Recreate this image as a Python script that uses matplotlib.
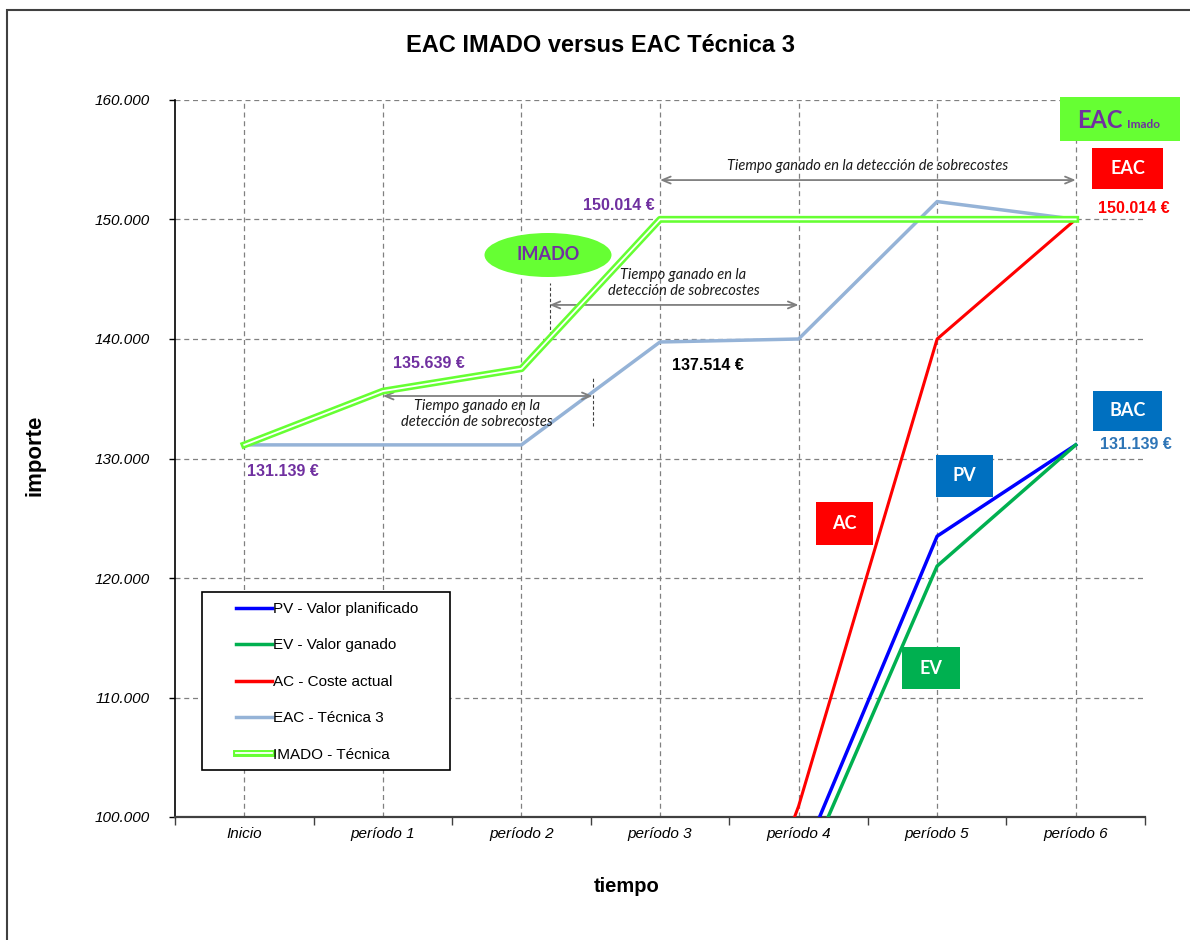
import matplotlib
matplotlib.use('Agg')
import matplotlib.pyplot as plt
import matplotlib.patheffects as pe
from matplotlib.patches import Rectangle, Ellipse
from matplotlib.lines import Line2D
from matplotlib.ticker import FuncFormatter

# datos
periodos = ['Inicio', 'período 1', 'período 2', 'período 3', 'período 4', 'período 5', 'período 6']
pv = [0, 25000, 50000, 72000, 95800, 123500, 131139]
ev = [0, 22000, 46000, 70000, 94300, 121000, 131139]
ac = [0, 20000, 45000, 70000, 100900, 140000, 150014]
eac_t3 = [131139, 131139, 131139, 139750, 140000, 151500, 150014]
imado = [131139, 135639, 137514, 150014, 150014, 150014, 150014]

W, H = 1190, 940
PURPLE = '#7030a0'
LGREEN = '#66ff33'
BLUE_BOX = '#0070c0'
ARIAL = 'Liberation Sans'
CALIBRI = 'Lato'


def fx(px):
    return px / W


def fy(py):
    return 1 - py / H


fig = plt.figure(figsize=(W / 100, H / 100), dpi=100)
ax = fig.add_axes([fx(175), fy(817), (1145 - 175) / W, (817 - 100) / H])

x = list(range(len(periodos)))
imado_fx = [pe.Stroke(linewidth=5, foreground=LGREEN), pe.Normal()]

ax.plot(x, pv, color='#0000ff', lw=2.5, zorder=3)
ax.plot(x, ev, color='#00b050', lw=2.5, zorder=3)
ax.plot(x, ac, color='#ff0000', lw=2.2, zorder=3)
ax.plot(x, eac_t3, color='#95b3d7', lw=2.5, zorder=3)
ax.plot(x, imado, color='white', lw=1.3, zorder=4, path_effects=imado_fx)

ax.set_xlim(-0.5, 6.5)
ax.set_ylim(100000, 160000)
ax.set_xticks(x)
ax.set_xticklabels(periodos, fontsize=11, style='italic', family=ARIAL)
ax.set_xticks([i - 0.5 for i in range(8)], minor=True)
ax.tick_params(axis='x', which='major', length=0, pad=7)
ax.tick_params(axis='x', which='minor', length=6, width=1, color='#404040', direction='out')
ax.set_yticks(range(100000, 160001, 10000))
ax.yaxis.set_major_formatter(FuncFormatter(lambda v, p: f'{v:,.0f}'.replace(',', '.')))
ax.tick_params(axis='y', length=4, width=1, pad=14)
for lab in ax.get_yticklabels():
    lab.set_fontstyle('italic')
    lab.set_fontsize(11)
    lab.set_family(ARIAL)

ax.grid(True, which='major', ls=(0, (4, 3)), color='#808080', lw=0.9)
ax.set_axisbelow(True)
ax.spines['top'].set_visible(False)
ax.spines['right'].set_visible(False)
ax.spines['bottom'].set_linewidth(1.6)
ax.spines['bottom'].set_color('#404040')
ax.spines['left'].set_linewidth(1.2)

# leyenda
ax.add_patch(Rectangle((fx(202), fy(770)), fx(450 - 202), (770 - 592) / H,
                       transform=fig.transFigure, facecolor='white', edgecolor='black',
                       lw=1.2, clip_on=False, zorder=5))
handles = [Line2D([], [], color='#0000ff', lw=2.5),
           Line2D([], [], color='#00b050', lw=2.5),
           Line2D([], [], color='#ff0000', lw=2.5),
           Line2D([], [], color='#95b3d7', lw=2.5),
           Line2D([], [], color='white', lw=1.3, path_effects=imado_fx)]
labels = ['PV - Valor planificado', 'EV - Valor ganado', 'AC - Coste actual',
          'EAC - Técnica 3', 'IMADO - Técnica']
leg = ax.legend(handles, labels, loc='upper left', bbox_to_anchor=(fx(236), fy(602)),
                bbox_transform=fig.transFigure, frameon=False,
                labelspacing=1.47, handlelength=2.35, handletextpad=0.05, borderpad=0,
                borderaxespad=0, prop={'family': ARIAL, 'size': 11})
leg.set_zorder(6)

# flechas de tiempo ganado
arrow = dict(arrowstyle='<->,head_length=0.6,head_width=0.25', color='#7f7f7f', lw=1.3,
             shrinkA=0, shrinkB=0)
txt = dict(fontsize=10.5, style='italic', family=CALIBRI, color='#1a1a1a', ha='center', va='center')

ax.annotate('', xy=(6, 153300), xytext=(3, 153300), arrowprops=arrow)
ax.text(4.5, 154500, 'Tiempo ganado en la detección de sobrecostes', **txt)

ax.annotate('', xy=(4, 142850), xytext=(2.203, 142850), arrowprops=arrow)
ax.text(3.17, 144690, 'Tiempo ganado en la\ndetección de sobrecostes', linespacing=1.25, **txt)
ax.plot([2.203, 2.203], [140300, 144700], color='#404040', lw=0.8, ls=(0, (3, 2)))

ax.annotate('', xy=(2.514, 135230), xytext=(1, 135230), arrowprops=arrow)
ax.text(1.68, 133720, 'Tiempo ganado en la\ndetección de sobrecostes', linespacing=1.25, **txt)
ax.plot([2.514, 2.514], [132700, 136900], color='#404040', lw=0.8, ls=(0, (3, 2)))

# etiquetas de importes
val = dict(fontsize=11.5, weight='bold', family=ARIAL, ha='center', va='center')
ax.text(2.70, 151130, '150.014 €', color=PURPLE, **val)
ax.text(3.345, 137820, '137.514 €', color='black', **val)
ax.text(1.335, 137990, '135.639 €', color=PURPLE, **val)
ax.text(0.28, 128950, '131.139 €', color=PURPLE, **val)
ax.text(6.42, 150960, '150.014 €', color='#ff0000', clip_on=False, **val)
ax.text(6.434, 131130, '131.139 €', color='#2e75b6', clip_on=False, **val)


def caja(x0, y0, x1, y1, color, texto=None, size=13):
    fig.patches.append(Rectangle((fx(x0), fy(y1)), fx(x1 - x0), (y1 - y0) / H,
                                 transform=fig.transFigure, facecolor=color,
                                 edgecolor='none', zorder=7))
    if texto:
        fig.text(fx((x0 + x1) / 2), fy((y0 + y1) / 2), texto, color='white', weight='bold',
                 family=CALIBRI, fontsize=size, ha='center', va='center', zorder=8)


caja(1060, 97, 1180, 141, LGREEN)
fig.text(fx(1100), fy(128), 'EAC', color=PURPLE, weight='bold', family=CALIBRI,
         fontsize=17, ha='center', va='baseline', zorder=8)
fig.text(fx(1144), fy(128), 'Imado', color=PURPLE, weight='bold', family=CALIBRI,
         fontsize=8.5, ha='center', va='baseline', zorder=8)
caja(1092, 148, 1163, 189, '#ff0000', 'EAC')
caja(1093, 391, 1162, 431, BLUE_BOX, 'BAC')
caja(936, 455, 993, 497, BLUE_BOX, 'PV')
caja(816, 502, 873, 545, '#ff0000', 'AC')
caja(902, 647, 960, 689, '#00b050', 'EV')

fig.patches.append(Ellipse((fx(548), fy(255)), fx(127), 44 / H, transform=fig.transFigure,
                           facecolor=LGREEN, edgecolor='none', zorder=7))
fig.text(fx(548), fy(255), 'IMADO', color=PURPLE, weight='bold', family=CALIBRI,
         fontsize=13, ha='center', va='center', zorder=8)

# titulos
fig.text(fx(600), fy(45), 'EAC IMADO versus EAC Técnica 3', fontsize=17, weight='bold',
         family=ARIAL, ha='center', va='center')
fig.text(fx(35), fy(455), 'importe', fontsize=16, weight='bold', family=ARIAL,
         rotation=90, ha='center', va='center')
fig.text(fx(627), fy(887), 'tiempo', fontsize=14.5, weight='bold', family=ARIAL,
         ha='center', va='center')

# marco del grafico
fig.patches.append(Rectangle((fx(7), fy(960)), fx(1200), 950 / H, transform=fig.transFigure,
                             fill=False, edgecolor='#404040', lw=1.5, zorder=0))

fig.savefig('out.png', dpi=100)
